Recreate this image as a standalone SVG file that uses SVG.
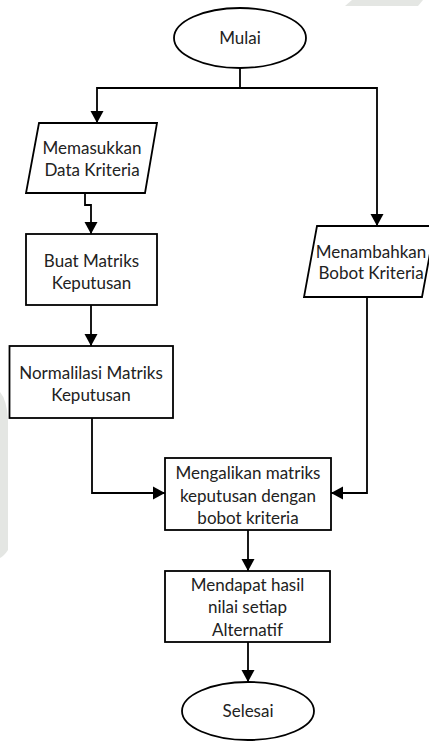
<svg xmlns="http://www.w3.org/2000/svg" width="429" height="742" viewBox="0 0 429 742">
<defs>
<marker id="arr" markerUnits="userSpaceOnUse" markerWidth="14" markerHeight="14" refX="12" refY="7" orient="auto">
<path d="M0,0.5 L12,7 L0,13.5 Z" fill="#000"/>
</marker>
<style>
.s{fill:#fff;stroke:#000;stroke-width:1.8}
.c{fill:none;stroke:#000;stroke-width:1.8;marker-end:url(#arr)}
.c0{fill:none;stroke:#000;stroke-width:1.8}
text{font-family:Lato,"Open Sans",sans-serif;font-size:17px;fill:#222;text-anchor:middle}
.wm{fill:#e4e6e3}
</style>
</defs>
<rect width="429" height="742" fill="#fff"/>
<path class="wm" d="M352,0 L423,0 L418,6 L345,6 Z"/>
<path class="wm" d="M0,392 Q7,400 8,420 L8,550 Q4,556 0,558 Z"/>
<g id="connectors">
<path class="c" d="M240,68 V88 H97 V123"/>
<path class="c" d="M240,88 H377 V226"/>
<path class="c" d="M85,193 V205 H91 V234"/>
<path class="c" d="M91,305 V346"/>
<path class="c" d="M92,418 V493 H165"/>
<path class="c" d="M367,297 V493 H331"/>
<path class="c" d="M248,530 V571"/>
<path class="c" d="M248,642 V682"/>
</g>
<g id="mulai">
<ellipse class="s" cx="240" cy="38" rx="66" ry="30"/>
<text x="240" y="44">Mulai</text>
</g>
<g id="memasukkan">
<polygon class="s" points="39,123 157,123 145,193 26,193"/>
<text x="92" y="154">Memasukkan</text>
<text x="92" y="176">Data Kriteria</text>
</g>
<g id="buat">
<rect class="s" x="26" y="234" width="131" height="71"/>
<text x="91.5" y="267">Buat Matriks</text>
<text x="91.5" y="289">Keputusan</text>
</g>
<g id="normalisasi">
<rect class="s" x="9.5" y="346" width="163.5" height="72"/>
<text x="91" y="379">Normalilasi Matriks</text>
<text x="91" y="401">Keputusan</text>
</g>
<g id="menambahkan">
<polygon class="s" points="317,226 435,226 422,297 304,297"/>
<text x="371" y="258">Menambahkan</text>
<text x="371" y="279">Bobot Kriteria</text>
</g>
<g id="mengalikan">
<rect class="s" x="165" y="458" width="166" height="72"/>
<text x="248" y="479">Mengalikan matriks</text>
<text x="248" y="502">keputusan dengan</text>
<text x="248" y="524">bobot kriteria</text>
</g>
<g id="mendapat">
<rect class="s" x="165" y="571" width="165" height="71"/>
<text x="247.5" y="591">Mendapat hasil</text>
<text x="247.5" y="613">nilai setiap</text>
<text x="247.5" y="636">Alternatif</text>
</g>
<g id="selesai">
<ellipse class="s" cx="248" cy="711" rx="66" ry="29"/>
<text x="248" y="717">Selesai</text>
</g>
</svg>
